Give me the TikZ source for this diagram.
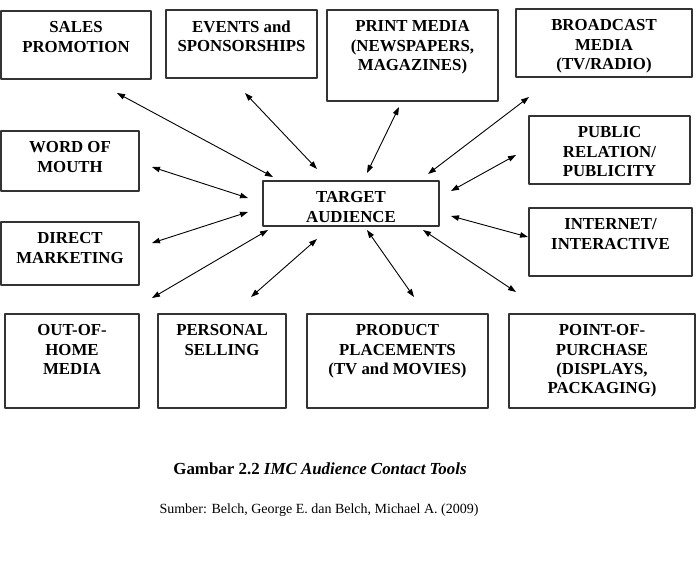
\documentclass[tikz,border=0pt]{standalone}
\usepackage{fontspec}
\setmainfont{Liberation Serif}
\usetikzlibrary{arrows.meta,fit}
\tikzset{
  box/.style={draw=black!80,line width=1.1pt,inner sep=0pt},
  boxtext/.style={anchor=north,inner sep=0pt,align=center,yshift=-11.2pt,
    font=\bfseries\fontsize{16.8}{19.3}\selectfont},
}
\begin{document}
\begin{tikzpicture}[x=1pt,y=-1pt,>={Triangle[length=8pt,width=5.5pt]},line join=round]
\useasboundingbox (0,0) rectangle (696,574);
% boxes
\foreach\n/\a/\b/\c/\d in {sales/1/11/151/79, events/166/10/317/78,
  print/327/10/498/101, broadcast/516/9/692/77, public/529/116/690/184,
  word/1/131/139/191, target/263/181/439/226, direct/1/222/139/285,
  internet/529/208/692/276, outhome/5/314/139/408, personal/158/314/286/408,
  product/307/314/488/408, pop/509/314/695/408}
\node[box,fit={(\a,\b) (\c,\d)}] (\n) {};
% texts
\foreach\n/\t in {sales/{SALES\\PROMOTION}, events/{EVENTS and\\SPONSORSHIPS},
  print/{PRINT MEDIA\\(NEWSPAPERS,\\MAGAZINES)}, broadcast/{BROADCAST\\MEDIA\\(TV/RADIO)},
  public/{PUBLIC\\RELATION/\\PUBLICITY}, word/{WORD OF\\MOUTH},
  target/{TARGET\\AUDIENCE}, direct/{DIRECT\\MARKETING},
  internet/{INTERNET/\\INTERACTIVE}, outhome/{OUT-OF-\\HOME\\MEDIA},
  personal/{PERSONAL\\SELLING}, product/{PRODUCT\\PLACEMENTS\\(TV and MOVIES)},
  pop/{POINT-OF-\\PURCHASE\\(DISPLAYS,\\PACKAGING)}}
\node[boxtext] (\n-text) at (\n.north) {\t};
% arrow ends
\path
(117,93) coordinate (sales1)    (273,177) coordinate (sales2)
(245,93) coordinate (events1)   (317,169) coordinate (events2)
(399,107) coordinate (print1)   (367,173) coordinate (print2)
(529,97) coordinate (broadcast1) (428,174) coordinate (broadcast2)
(516,155) coordinate (public1)  (451,191) coordinate (public2)
(152,167) coordinate (word1)    (248,198) coordinate (word2)
(152,243) coordinate (direct1)  (248,212) coordinate (direct2)
(528,237) coordinate (internet1) (451,216) coordinate (internet2)
(152,298) coordinate (outhome1) (268,230) coordinate (outhome2)
(251,297) coordinate (personal1) (317,239) coordinate (personal2)
(414,297) coordinate (product1) (367,230) coordinate (product2)
(516,292) coordinate (pop1)     (423,230) coordinate (pop2)
;
\foreach\n in {sales,events,print,broadcast,public,word,direct,internet,outhome,personal,product,pop}
\draw[<->,line width=0.9pt] (\n1)--(\n2);
% caption
\node[anchor=base,inner sep=0pt,font=\bfseries\fontsize{16.9}{19}\selectfont] (caption) at (320,474)
  {Gambar 2.2 \textit{IMC Audience Contact Tools}};
\node[anchor=base,inner sep=0pt,font=\fontsize{14}{16}\selectfont] (source) at (319,513)
  {Sumber: Belch, George E. dan Belch, Michael A. (2009)};
\end{tikzpicture}
\end{document}
